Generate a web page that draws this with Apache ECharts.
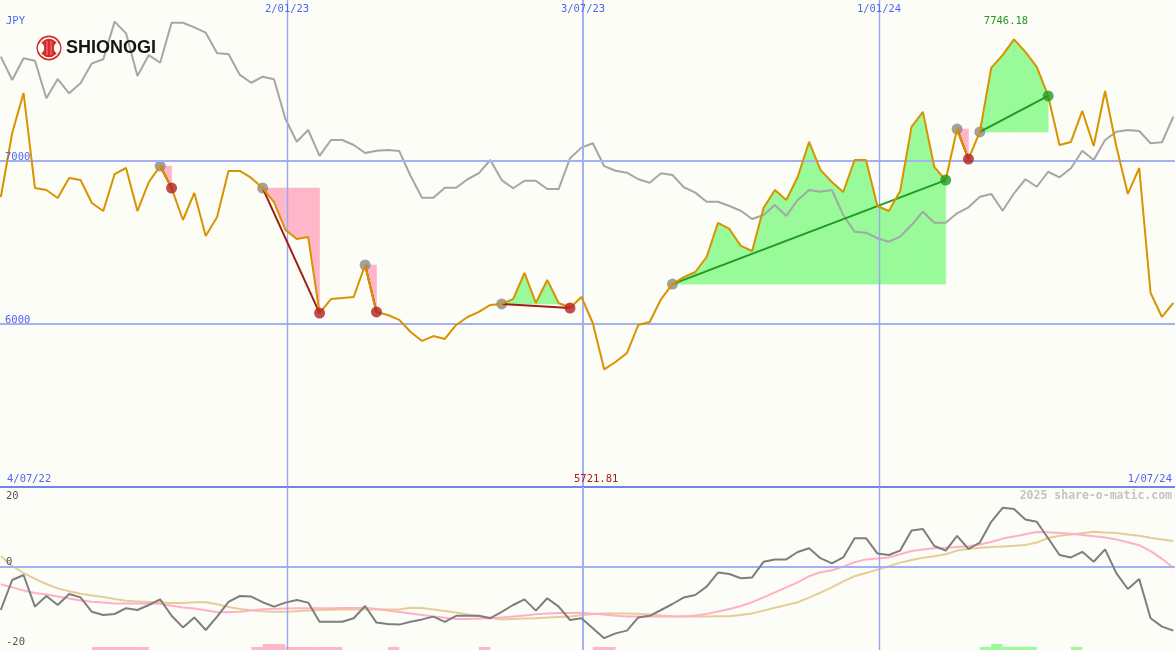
<!DOCTYPE html>
<html><head><meta charset="utf-8">
<script src="https://cdn.jsdelivr.net/npm/echarts@6/dist/echarts.min.js"></script>
<style>html,body{margin:0;padding:0;background:#fcfdf6}#c{width:1175px;height:650px}</style>
</head><body><div id="c"></div>
<script>
// ---------------- DATA ----------------
const currency = 'JPY';
const company = 'SHIONOGI';
const credit = '2025 share-o-matic.com';
const periodStart = '4/07/22';
const periodEnd = '1/07/24';
const firstWeek = Date.UTC(2022, 6, 10);
const WEEK = 7 * 86400000;

// weekly close (JPY)
const price = [
  6779, 7172, 7417, 6834, 6822, 6773, 6896, 6883, 6742, 6693,
  6920, 6957, 6693, 6871, 6969, 6834, 6638, 6804, 6540, 6656,
  6939, 6939, 6896, 6834, 6748, 6577, 6521, 6534, 6067, 6153,
  6159, 6166, 6362, 6074, 6055, 6025, 5951, 5896, 5926, 5908,
  5994, 6043, 6074, 6117, 6123, 6153, 6313, 6129, 6270, 6129,
  6098, 6166, 6006, 5721.81, 5767, 5822, 5994, 6012, 6153, 6245,
  6288, 6319, 6411, 6620, 6583, 6479, 6448, 6712, 6822, 6761,
  6902, 7117, 6945, 6871, 6810, 7006, 7006, 6724, 6693, 6816,
  7209, 7301, 6963, 6883, 7196, 7012, 7178, 7571, 7650, 7746.18,
  7669, 7577, 7399, 7098, 7117, 7307, 7092, 7429, 7086, 6798,
  6957, 6190, 6043, 6129
];
// relative-strength line (drawn on price scale)
const relative = [
  7640, 7497, 7630, 7615, 7385, 7503, 7415, 7477, 7599, 7624,
  7855, 7783, 7521, 7650, 7603, 7848, 7848, 7820, 7787, 7661,
  7656, 7528, 7480, 7517, 7501, 7258, 7118, 7190, 7031, 7129,
  7129, 7098, 7049, 7063, 7067, 7061, 6908, 6775, 6775, 6836,
  6836, 6888, 6925, 7006, 6883, 6833, 6879, 6879, 6828, 6828,
  7017, 7082, 7109, 6969, 6940, 6928, 6888, 6867, 6925, 6914,
  6839, 6806, 6750, 6750, 6724, 6695, 6644, 6669, 6730, 6663,
  6761, 6822, 6812, 6822, 6669, 6566, 6560, 6526, 6505, 6536,
  6607, 6689, 6621, 6621, 6679, 6716, 6781, 6798, 6695, 6802,
  6888, 6842, 6934, 6900, 6955, 7063, 7006, 7129, 7180, 7190,
  7184, 7109, 7115, 7272
];
// lower panel oscillator
const oscFast = [
  -10.75, -3.25, -2, -9.9, -7.25, -9.5, -6.75, -7.6, -11.2, -12,
  -11.75, -10.3, -10.75, -9.5, -8.1, -12.2, -15.1, -12.6, -15.75, -12.4,
  -8.7, -7.25, -7.4, -8.8, -9.9, -8.9, -8.25, -8.9, -13.7, -13.7,
  -13.7, -12.8, -9.75, -13.9, -14.25, -14.4, -13.7, -13.1, -12.4, -13.7,
  -12.2, -12.2, -12.2, -12.8, -11.2, -9.5, -8.1, -10.9, -7.8, -9.9,
  -13.25, -12.8, -15.3, -17.8, -16.6, -15.9, -12.6, -12.2, -10.75, -9.25,
  -7.6, -7, -4.9, -1.4, -1.75, -2.8, -2.6, 1.3, 1.9, 1.9,
  3.75, 4.7, 2.2, 0.9, 2.4, 7.2, 7.2, 3.4, 3, 4.1,
  9.1, 9.5, 5.25, 4.1, 7.8, 4.5, 6.1, 11.3, 14.8, 14.5,
  11.9, 11.3, 7.2, 3, 2.4, 3.8, 1.3, 4.4, -1.6, -5.5,
  -3, -12.8, -14.9, -15.9
];
const oscPink = [
  -4.3, -5.1, -5.9, -6.5, -6.9, -7.4, -7.9, -8.4, -8.7, -8.9,
  -9.1, -9.1, -9.1, -9.1, -9.2, -9.7, -10.1, -10.4, -10.8, -11.3,
  -11.3, -11.2, -10.9, -10.55, -10.45, -10.35, -10.3, -10.3, -10.3, -10.3,
  -10.25, -10.25, -10.2, -10.5, -10.9, -11.25, -11.6, -12, -12.4, -12.7,
  -13, -13, -12.9, -12.8, -12.6, -12.4, -12.1, -11.8, -11.6, -11.5,
  -11.5, -11.45, -11.7, -11.9, -12.2, -12.4, -12.4, -12.4, -12.4, -12.4,
  -12.4, -12.1, -11.75, -11.1, -10.5, -9.75, -8.8, -7.6, -6.35, -5.1,
  -3.85, -2.3, -1.3, -0.8, 0.1, 1.2, 1.9, 2.15, 2.4, 3.2,
  4, 4.4, 4.7, 4.8, 5, 5.2, 5.65, 6.25, 7.1, 7.65,
  8.2, 8.75, 8.7, 8.5, 8.3, 8, 7.7, 7.35, 6.9, 6.2,
  5.45, 3.95, 2.05, -0.2
];
const oscTan = [
  2.75, 0.25, -1.5, -2.95, -4.25, -5.35, -6.05, -6.7, -7.1, -7.5,
  -8, -8.45, -8.6, -8.75, -8.9, -9, -9, -8.8, -8.8, -9.3,
  -10, -10.5, -10.8, -11.05, -11.2, -11.2, -11.05, -10.9, -10.75, -10.7,
  -10.6, -10.6, -10.6, -10.6, -10.6, -10.6, -10.2, -10.25, -10.6, -11,
  -11.4, -11.85, -12.3, -12.7, -13.1, -13, -12.9, -12.8, -12.65, -12.5,
  -12.35, -12.05, -11.75, -11.6, -11.6, -11.6, -11.7, -11.9, -12.15, -12.3,
  -12.35, -12.4, -12.4, -12.3, -12.3, -12, -11.6, -10.9, -10.2, -9.5,
  -8.8, -7.65, -6.4, -5.1, -3.6, -2.3, -1.5, -0.65, 0.2, 1.1,
  1.75, 2.3, 2.7, 3.2, 4.1, 4.5, 4.8, 5, 5.15, 5.3,
  5.5, 6.1, 7.25, 7.8, 8.1, 8.45, 8.8, 8.6, 8.5, 8.1,
  7.8, 7.3, 6.9, 6.5
];
// trend segments [startWeek, endWeek]
const trends = [[14, 15], [23, 28], [32, 33], [44, 50], [59, 83], [84, 85], [86, 92]];
// signal bars [week, strength]
const barsDown = [[8,1],[9,1],[10,1],[11,1],[12,1],[22,1],[23,2],[24,2],[25,1],[26,1],[27,1],[28,1],[29,1],[34,1],[42,1],[52,1],[53,1]];
const barsUp = [[86,1],[87,2],[88,1],[89,1],[90,1],[94,1]];
// axis markers
const gridDates = [Date.UTC(2023,0,2), Date.UTC(2023,6,3), Date.UTC(2024,0,1)];
const gridLabels = ['2/01/23', '3/07/23', '1/01/24'];
const priceLevels = [7000, 6000];
const oscTicks = [20, 0, -20];

// ---------------- STYLE ----------------
const X_MIN = Date.UTC(2022, 6, 9, 12);
const X_MAX = Date.UTC(2024, 6, 1);
const BLUE_TXT = '#5264f0';
const GRID_C = '#a4b0f2';
const VGRID_C = '#9aa6f4';
const SEP_C = '#7383ee';
const UP_FILL = '#98fa98', DOWN_FILL = '#ffb6c8';
const UP_LINE = '#229a22', DOWN_LINE = '#a01c1c';
const MONO = '"DejaVu Sans Mono", "Liberation Mono", monospace';

const dates = price.map((_, i) => firstWeek + i * WEEK);

function renderFill(params, api) {
  const s = api.value(2), e = api.value(3);
  const L = price[s];
  const children = [];
  const poly = (pts, up) => children.push({
    type: 'polygon', silent: true,
    shape: { points: pts.map(p => api.coord(p)) },
    style: { fill: up ? UP_FILL : DOWN_FILL, stroke: up ? UP_FILL : DOWN_FILL, lineWidth: 0.6 }
  });
  for (let i = s; i < e; i++) {
    const a = price[i], b = price[i + 1], xa = dates[i], xb = dates[i + 1];
    if ((a - L) * (b - L) < 0) {
      const xm = xa + (xb - xa) * (L - a) / (b - a);
      poly([[xa, L], [xa, a], [xm, L]], a > L);
      poly([[xm, L], [xb, b], [xb, L]], b > L);
    } else {
      poly([[xa, L], [xa, a], [xb, b], [xb, L]], (a + b) / 2 >= L);
    }
  }
  return { type: 'group', children };
}
function renderTrend(params, api) {
  const s = api.value(2), e = api.value(3);
  const p0 = api.coord([dates[s], price[s]]), p1 = api.coord([dates[e], price[e]]);
  return { type: 'line', silent: true, shape: { x1: p0[0], y1: p0[1], x2: p1[0], y2: p1[1] },
    style: { stroke: price[e] > price[s] ? UP_LINE : DOWN_LINE, lineWidth: 2 } };
}
function renderBar(params, api) {
  const i = api.value(2);
  const p0 = api.coord([dates[i], 0]);
  const p1 = api.coord([dates[i] + WEEK, api.value(1)]);
  return { type: 'rect', silent: true, shape: { x: p0[0], y: p1[1], width: p1[0] - p0[0], height: p0[1] - p1[1] },
    style: { fill: api.value(3) ? UP_FILL : DOWN_FILL } };
}

const vLines = gridDates.map((d, k) => ({ xAxis: d, lineStyle: { color: k === 1 ? GRID_C : VGRID_C, width: k === 1 ? 2 : 1.4, type: 'solid' } }));

const chart = echarts.init(document.getElementById('c'));
chart.setOption({
  animation: false,
  backgroundColor: '#fcfdf6',
  grid: [
    { left: 0, right: 0, top: 0, height: 487 },
    { left: 0, right: 0, top: 487, height: 163 }
  ],
  xAxis: [
    { type: 'time', gridIndex: 0, min: X_MIN, max: X_MAX, show: false },
    { type: 'time', gridIndex: 1, min: X_MIN, max: X_MAX, show: false }
  ],
  yAxis: [
    { type: 'value', gridIndex: 0, min: 5000, max: 7987.7, show: false },
    { type: 'value', gridIndex: 1, min: -20.75, max: 20, show: false },
    { type: 'value', gridIndex: 1, min: 0, max: 54.33, show: false }
  ],
  series: [
    { type: 'custom', xAxisIndex: 0, yAxisIndex: 0, z: 1, renderItem: renderFill,
      data: trends.map(t => [dates[t[0]], price[t[0]], t[0], t[1]]) },
    { type: 'line', xAxisIndex: 0, yAxisIndex: 0, z: 2, data: [],
      markLine: { silent: true, symbol: 'none', animation: false, label: { show: false },
        data: priceLevels.map(v => ({ yAxis: v, lineStyle: { color: GRID_C, width: 2, type: 'solid' } })).concat(vLines) } },
    { type: 'line', xAxisIndex: 0, yAxisIndex: 0, z: 3, showSymbol: false, silent: true,
      data: dates.map((d, i) => [d, relative[i]]), lineStyle: { color: '#a6a6a6', width: 2 } },
    { type: 'scatter', xAxisIndex: 0, yAxisIndex: 0, z: 4, symbolSize: 11, silent: true,
      itemStyle: { color: '#8a8a8a' }, data: trends.map(t => [dates[t[0]], price[t[0]]]) },
    { type: 'custom', xAxisIndex: 0, yAxisIndex: 0, z: 5, renderItem: renderTrend,
      data: trends.map(t => [dates[t[0]], price[t[0]], t[0], t[1]]) },
    { type: 'line', xAxisIndex: 0, yAxisIndex: 0, z: 6, showSymbol: false, silent: true,
      data: dates.map((d, i) => [d, price[i]]), lineStyle: { color: '#d99200', width: 2 } },
    { type: 'scatter', xAxisIndex: 0, yAxisIndex: 0, z: 7, symbolSize: 11, silent: true,
      data: trends.map(t => ({ value: [dates[t[1]], price[t[1]]],
        itemStyle: { color: price[t[1]] > price[t[0]] ? UP_LINE : '#b02020' } })) },
    // lower panel
    { type: 'line', xAxisIndex: 1, yAxisIndex: 1, z: 2, data: [],
      markLine: { silent: true, symbol: 'none', animation: false, label: { show: false },
        data: [
          { yAxis: 0, lineStyle: { color: GRID_C, width: 2, type: 'solid' } },
          { yAxis: 20, lineStyle: { color: SEP_C, width: 2, type: 'solid' } }
        ].concat(vLines) } },
    { type: 'custom', xAxisIndex: 1, yAxisIndex: 2, z: 3, renderItem: renderBar,
      data: barsDown.map(b => [dates[b[0]], b[1], b[0], 0]).concat(barsUp.map(b => [dates[b[0]], b[1], b[0], 1])) },
    { type: 'line', xAxisIndex: 1, yAxisIndex: 1, z: 3, showSymbol: false, silent: true,
      data: dates.map((d, i) => [d, oscTan[i]]), lineStyle: { color: '#e6cc98', width: 2 } },
    { type: 'line', xAxisIndex: 1, yAxisIndex: 1, z: 4, showSymbol: false, silent: true,
      data: dates.map((d, i) => [d, oscPink[i]]), lineStyle: { color: '#ffb0c8', width: 2 } },
    { type: 'line', xAxisIndex: 1, yAxisIndex: 1, z: 5, showSymbol: false, silent: true,
      data: dates.map((d, i) => [d, oscFast[i]]), lineStyle: { color: '#7e7e7e', width: 2 } }
  ]
});

// ---------------- TEXT ----------------
const txt = (text, x, y, color, align, vAlign, extra) => Object.assign({
  type: 'text', silent: true, z: 100, x, y,
  style: Object.assign({ text, fill: color, font: '10.5px ' + MONO, align: align || 'left', verticalAlign: vAlign || 'middle' }, extra || {})
});
const px = (d, axis) => chart.convertToPixel({ xAxisIndex: axis || 0 }, d);
const py = (v, axis) => chart.convertToPixel({ yAxisIndex: axis || 0 }, v);

const maxI = price.indexOf(Math.max(...price));
const minI = price.indexOf(Math.min(...price));
const g = [];
g.push(txt(currency, 6, 21, BLUE_TXT));
gridDates.forEach((d, k) => g.push(txt(gridLabels[k], px(d), 9, BLUE_TXT, 'center')));
priceLevels.forEach(v => g.push(txt(String(v), 5, py(v) + 2, BLUE_TXT, 'left', 'bottom')));
g.push(txt(price[maxI].toFixed(2), px(dates[maxI]) - 8, py(price[maxI]) - 18, '#229922', 'center'));
g.push(txt(price[minI].toFixed(2), px(dates[minI]) - 8, 479, '#aa2020', 'center'));
g.push(txt(periodStart, 7, 479, BLUE_TXT));
g.push(txt(periodEnd, 1172, 479, BLUE_TXT, 'right'));
g.push(txt(credit, 1172, 496, '#c4c4c4', 'right', 'middle', { font: 'bold 11.5px ' + MONO }));
g.push(txt(String(oscTicks[0]), 6, py(oscTicks[0], 1) + 9, '#555555'));
g.push(txt(String(oscTicks[1]), 6, py(oscTicks[1], 1) - 5, '#555555'));
g.push(txt(String(oscTicks[2]), 6, py(oscTicks[2], 1) - 5, '#555555'));
// logo
g.push({ type: 'group', x: 49, y: 48, silent: true, z: 100, children: [
  { type: 'circle', shape: { cx: 0, cy: 0, r: 12.5 }, style: { fill: '#d52a2a' } },
  { type: 'circle', shape: { cx: 0, cy: 0, r: 10 }, style: { fill: 'none', stroke: '#ffffff', lineWidth: 1.4 } },
  { type: 'ellipse', shape: { cx: -8, cy: 0, rx: 3.2, ry: 5 }, style: { fill: '#ffffff' } },
  { type: 'ellipse', shape: { cx: 8, cy: 0, rx: 3.2, ry: 5 }, style: { fill: '#ffffff' } },
  { type: 'line', shape: { x1: -2, y1: -7, x2: -2, y2: 7 }, style: { stroke: '#f4a0a0', lineWidth: 0.8 } },
  { type: 'line', shape: { x1: 2, y1: -7, x2: 2, y2: 7 }, style: { stroke: '#f4a0a0', lineWidth: 0.8 } }
] });
g.push({ type: 'text', silent: true, z: 100, x: 66, y: 48,
  style: { text: company, fill: '#141414', font: 'bold 18px "Liberation Sans", Arial, sans-serif', verticalAlign: 'middle' } });
chart.setOption({ graphic: g });
</script>
</body></html>
